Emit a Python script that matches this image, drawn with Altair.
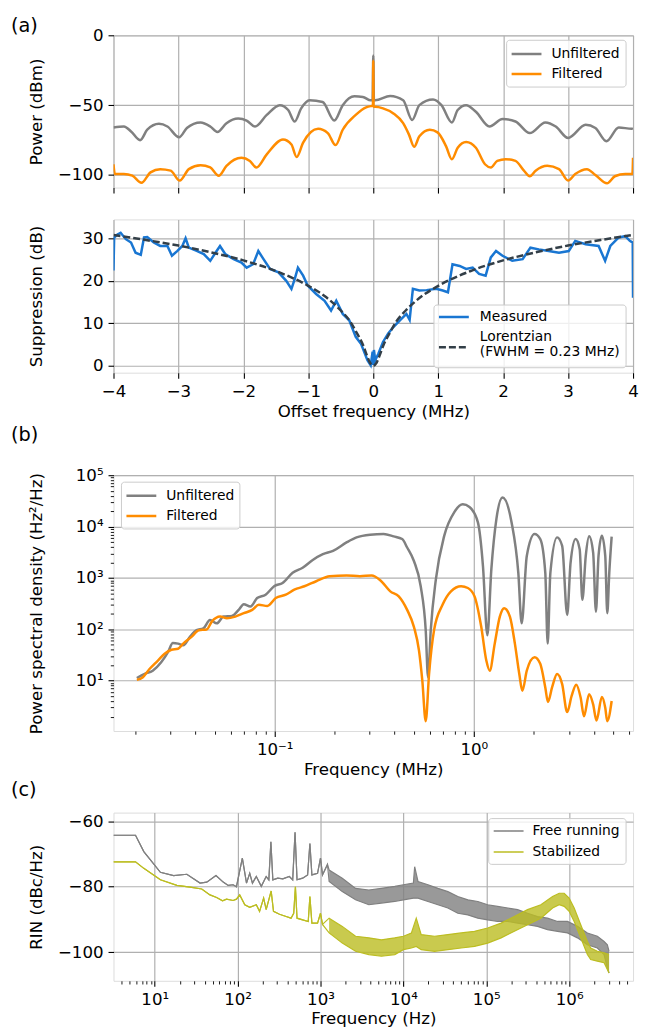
import altair as alt
import pandas as pd

FONT = "DejaVu Sans"
GRAY = "#808080"
ORANGE = "#ff8c00"
BLUE = "#1976d2"
DARK = "#333f48"
OLIVE = "#bcbd22"

# ---------------- (a) upper: power spectra ----------------
pa_unf_x = [-4.0, -3.84, -3.73, -3.59, -3.48, -3.30, -3.17, -2.99, -2.87, -2.66, -2.51, -2.40, -2.26, -2.08, -1.95,
            -1.82, -1.64, -1.44, -1.31, -1.21, -1.11, -0.98, -0.78, -0.60, -0.47, -0.29, -0.16, -0.04, -0.01, 0.0,
            0.01, 0.03, 0.26, 0.46, 0.60, 0.71, 0.92, 1.05, 1.21, 1.30, 1.43, 1.58, 1.79, 1.99, 2.19, 2.41, 2.65,
            2.81, 3.00, 3.27, 3.42, 3.59, 3.78, 3.98, 4.0]
pa_unf_y = [-66.0, -65.3, -68.8, -75.1, -67.6, -63.4, -65.3, -73.0, -66.4, -62.4, -65.3, -69.2, -62.9, -59.6, -61.0,
            -65.3, -57.0, -50.0, -53.5, -61.7, -52.3, -46.5, -47.7, -61.0, -50.0, -43.7, -44.1, -46.5, -46.5, -14.5,
            -46.5, -46.5, -43.4, -46.5, -60.6, -50.0, -46.0, -50.0, -62.4, -53.5, -50.0, -54.7, -65.3, -59.9, -61.7,
            -70.0, -62.4, -65.3, -73.5, -64.1, -66.4, -75.8, -66.0, -66.9, -66.5]
pa_fil_x = [-4.0, -3.98, -3.84, -3.71, -3.57, -3.43, -3.28, -3.12, -2.98, -2.84, -2.66, -2.51, -2.38, -2.26, -2.03,
            -1.90, -1.80, -1.64, -1.39, -1.26, -1.18, -1.08, -0.85, -0.70, -0.58, -0.47, -0.27, -0.11, -0.04, -0.005,
            0.0, 0.005, 0.03, 0.15, 0.31, 0.46, 0.55, 0.63, 0.71, 0.87, 0.99, 1.12, 1.21, 1.30, 1.43, 1.58, 1.72,
            1.81, 1.91, 2.04, 2.19, 2.32, 2.41, 2.50, 2.68, 2.86, 3.00, 3.11, 3.29, 3.42, 3.60, 3.72, 3.88, 3.99, 4.0]
pa_fil_y = [-92.3, -99.3, -99.3, -100.5, -105.6, -98.1, -95.8, -96.9, -104.0, -95.8, -93.0, -94.6, -100.5, -93.4,
            -87.6, -89.9, -94.6, -85.2, -74.6, -78.2, -87.1, -76.8, -66.9, -70.0, -78.6, -67.6, -57.0, -51.6, -50.7,
            -50.5, -18.3, -51.2, -51.2, -52.3, -55.9, -62.9, -71.1, -79.8, -72.3, -67.6, -69.5, -79.3, -88.7, -80.5,
            -76.3, -80.5, -92.3, -94.6, -89.9, -88.7, -89.9, -96.9, -100.9, -96.9, -93.4, -95.8, -104.0, -99.3,
            -95.8, -100.0, -105.9, -100.9, -99.3, -99.3, -87.6]
pa_names = ["Unfiltered", "Filtered"]

# ---------------- (a) lower: suppression ----------------
pb_meas_x = [-4.0, -3.99, -3.94, -3.89, -3.81, -3.73, -3.66, -3.58, -3.53, -3.48,
             -3.38, -3.28, -3.17, -3.10, -3.02, -2.94, -2.89, -2.84, -2.71, -2.61,
             -2.51, -2.43, -2.36, -2.28, -2.15, -2.03, -1.95, -1.85, -1.77, -1.69,
             -1.59, -1.46, -1.34, -1.26, -1.21, -1.16, -1.08, -1.01, -0.88, -0.75,
             -0.65, -0.57, -0.47, -0.37, -0.27, -0.19, -0.09, -0.04, -0.01, 0.0,
             0.01, 0.03, 0.08, 0.15, 0.23, 0.31, 0.41, 0.51, 0.56, 0.61,
             0.71, 0.82, 0.97, 1.07, 1.15, 1.22, 1.33, 1.43, 1.53, 1.63,
             1.73, 1.81, 1.89, 1.99, 2.14, 2.30, 2.42, 2.55, 2.70, 2.86,
             3.01, 3.11, 3.27, 3.47, 3.57, 3.65, 3.78, 3.88, 3.95, 3.995, 4.0]
pb_meas_y = [22.4, 30.2, 30.9, 31.3, 29.8, 29.0, 26.6, 26.1, 30.2, 30.3,
             29.0, 28.2, 28.2, 25.9, 27.0, 28.2, 30.0, 27.8, 27.0, 26.3,
             24.7, 26.6, 28.2, 26.3, 25.1, 24.3, 23.1, 23.9, 27.0, 25.1,
             22.8, 22.0, 20.0, 18.1, 20.4, 23.1, 21.2, 18.9, 16.9, 15.3,
             13.0, 15.3, 12.2, 10.7, 6.8, 5.2, 1.3, 0.1, 3.3, 0.2,
             3.7, 1.3, 2.9, 5.6, 7.6, 9.1, 10.7, 12.2, 10.8, 18.1,
             17.7, 17.8, 18.1, 17.7, 17.3, 23.9, 23.5, 22.8, 23.1, 21.6,
             21.2, 25.5, 27.0, 25.9, 24.7, 25.1, 27.8, 27.4, 27.0, 26.6,
             27.0, 29.4, 28.6, 28.2, 24.7, 28.2, 30.2, 30.5, 29.4, 29.0, 16.0]
pb_lor_x = [-4, -3.5, -3, -2.5, -2, -1.5, -1, -0.75, -0.5, -0.35, -0.25, -0.15, -0.1, -0.05, 0,
            0.05, 0.1, 0.15, 0.25, 0.35, 0.5, 0.75, 1, 1.5, 2, 2.5, 3, 3.5, 4]
pb_lor_y = [30.8, 29.6, 28.3, 26.7, 24.8, 22.3, 18.8, 16.4, 13.0, 10.3, 7.6, 4.6, 2.5, 0.7, 0.0,
            0.7, 2.5, 4.6, 7.6, 10.3, 13.0, 16.4, 18.8, 22.3, 24.8, 26.7, 28.3, 29.6, 30.8]
pb_names = [["Measured"], ["Lorentzian", "(FWHM = 0.23 MHz)"]]

# ---------------- (b) power spectral density ----------------
pc_unf_f = [0.0203, 0.0221, 0.0244, 0.0269, 0.0291, 0.0308, 0.0327, 0.0347, 0.0375, 0.0405,
            0.0438, 0.0473, 0.0512, 0.0553, 0.0610, 0.0659, 0.0699, 0.0755, 0.0816, 0.0900,
            0.0993, 0.1095, 0.1230, 0.1381, 0.1552, 0.1745, 0.1963, 0.2293, 0.2576, 0.3012,
            0.3521, 0.3957, 0.4365, 0.4624, 0.5000, 0.5408, 0.5731, 0.5888, 0.6074, 0.6442,
            0.7103, 0.7978, 0.8793, 0.9506, 1.047, 1.111, 1.169, 1.224, 1.298, 1.393,
            1.546, 1.672, 1.738, 1.844, 2.017, 2.155, 2.284, 2.348, 2.422, 2.618,
            2.776, 2.942, 3.060, 3.243, 3.399, 3.507, 3.647, 3.791, 3.972, 4.102,
            4.227, 4.394, 4.569, 4.677, 4.786, 4.920]
pc_unf_p = [11.3, 13.5, 15.7, 22.9, 36.1, 54.3, 52.7, 48.9, 71.3, 96.4,
            104, 152, 131, 177, 182, 239, 309, 278, 406, 472,
            689, 800, 1259, 1581, 2239, 2897, 3368, 4911, 6166, 6955,
            7173, 6457, 5718, 3920, 2138, 689, 96, 11.6, 96, 931,
            6653, 19140, 27120, 24040, 12170, 1706, 76.9, 1466, 14160, 36730,
            12170, 1259, 131, 2685, 7173, 5716, 1259, 52.7, 1259, 6166,
            4227, 191, 1982, 5716, 3631, 376, 2685, 6457, 3119, 221,
            2685, 6653, 2685, 206, 1259, 6353]
pc_fil_f = [0.0203, 0.0217, 0.0235, 0.0259, 0.0280, 0.0303, 0.0327, 0.0347, 0.0382, 0.0416,
            0.0455, 0.0483, 0.0532, 0.0575, 0.0634, 0.0699, 0.0771, 0.0832, 0.0918, 0.1012,
            0.1137, 0.1254, 0.1409, 0.1615, 0.1888, 0.2293, 0.2679, 0.3069, 0.3388, 0.3804,
            0.4196, 0.4624, 0.5000, 0.5301, 0.5510, 0.5731, 0.5957, 0.6312, 0.6961, 0.7674,
            0.8630, 0.9330, 1.008, 1.089, 1.155, 1.201, 1.273, 1.350, 1.420, 1.517,
            1.607, 1.691, 1.752, 1.844, 2.017, 2.155, 2.284, 2.356, 2.470, 2.618,
            2.776, 2.942, 3.097, 3.266, 3.437, 3.573, 3.791, 3.972, 4.128, 4.394,
            4.569, 4.677, 4.920]
pc_fil_p = [10.4, 11.6, 16.9, 24.7, 33.5, 40.1, 42.0, 52.7, 71.3, 96.4,
            99.4, 141, 177, 164, 177, 206, 239, 300, 286, 406,
            472, 592, 689, 863, 1084, 1117, 1084, 1117, 904, 548,
            438, 239, 112, 38.9, 10.0, 1.63, 13.5, 96.4, 300, 548,
            689, 638, 438, 112, 24.7, 15.7, 52.7, 177, 258, 177,
            52.7, 13.5, 6.36, 15.7, 28.7, 21.3, 7.38, 3.86, 7.38, 13.5,
            8.59, 2.45, 5.06, 8.34, 4.70, 2.04, 5.46, 3.47, 1.68, 4.83,
            2.98, 1.63, 4.03]
pc_names = ["Unfiltered", "Filtered"]

# ---------------- (c) RIN ----------------
pd_free_clean_f = [3.17, 5.86, 7.38, 11.7, 16.9, 24.4, 35.2, 42.4, 54.8, 67.0, 76.9, 88.3, 96.8, 114, 128, 140,
                   151, 168, 193, 221, 238, 252, 266, 305, 351, 421, 462, 493, 521, 609, 699, 745, 787, 921,
                   1000, 1057, 1213]
pd_free_clean_v = [-64.3, -64.3, -69.3, -75.6, -76.6, -76.2, -78.9, -78.6, -76.6, -78.6, -79.6, -79.4, -80.0,
                   -71.3, -78.9, -75.9, -78.9, -76.9, -79.9, -76.9, -77.9, -66.3, -77.9, -77.4, -77.6, -76.9,
                   -77.9, -63.4, -77.9, -77.4, -76.4, -66.8, -76.4, -75.9, -71.3, -76.4, -73.2]
pd_free_band_f = [1271, 1832, 2649, 3828, 5433, 7870, 10000, 13200, 13680, 15000, 19800, 26100, 34400, 45400,
                  60000, 79100, 104000, 137000, 182000, 239000, 315000, 416000, 548000, 724000, 955000,
                  1260000, 1660000, 2190000, 2640000, 2890000, 3030000]
pd_free_band_hi = [-74.9, -77.4, -80.5, -81.0, -80.5, -79.9, -79.4, -78.9, -73.9, -78.4, -79.4, -80.5, -81.5,
                   -83.0, -84.0, -84.5, -85.5, -86.0, -86.5, -87.0, -88.1, -89.1, -89.6, -90.6, -90.6, -92.1,
                   -94.1, -95.1, -96.7, -97.7, -99.7]
pd_free_band_lo = [-78.4, -81.5, -84.0, -85.5, -85.0, -84.5, -84.0, -83.5, -83.5, -83.5, -84.5, -85.5, -86.5,
                   -88.1, -88.6, -89.6, -90.1, -90.6, -90.6, -91.1, -91.6, -92.1, -93.1, -93.6, -94.1, -95.6,
                   -97.7, -98.7, -100.7, -104.8, -106.3]
pd_stab_clean_f = [3.17, 5.86, 7.38, 11.7, 18.5, 26.7, 36.9, 46.4, 55.8, 65.8, 73.5, 88.3, 96.8, 106, 122, 140,
                   168, 184, 206, 221, 254, 271, 320, 385, 441, 475, 498, 521, 609, 711, 745, 787, 921, 1000, 1057]
pd_stab_clean_v = [-72.4, -72.4, -74.4, -77.9, -79.6, -80.1, -80.7, -82.5, -83.3, -84.3, -83.8, -84.2, -83.8,
                   -82.5, -85.5, -86.3, -85.5, -87.5, -83.5, -87.0, -81.3, -87.5, -88.4, -89.1, -89.6, -88.1,
                   -80.0, -89.6, -90.1, -90.6, -83.0, -91.1, -91.1, -88.1, -91.5]
pd_stab_band_f = [1271, 1832, 2649, 3828, 5433, 7870, 10000, 12500, 14300, 16400, 23800, 34400, 49800, 72100,
                  104000, 151000, 218000, 315000, 456000, 631000, 759000, 871000, 1000000, 1150000, 1380000,
                  1660000, 1820000, 2190000, 2640000, 3030000]
pd_stab_band_hi = [-89.6, -92.1, -95.1, -95.6, -96.2, -95.6, -95.1, -94.1, -89.6, -94.6, -95.1, -94.6, -94.1,
                   -93.6, -92.6, -91.1, -89.1, -87.0, -85.5, -83.0, -82.0, -82.0, -83.5, -86.5, -91.6, -96.7,
                   -98.7, -99.7, -100.2, -100.7]
pd_stab_band_lo = [-94.1, -97.2, -99.7, -100.7, -101.2, -100.7, -99.2, -98.7, -98.2, -99.2, -99.7, -99.2, -98.7,
                   -98.2, -97.2, -95.6, -93.6, -91.6, -89.6, -86.5, -85.5, -86.0, -87.5, -90.6, -95.6, -100.7,
                   -102.2, -102.7, -103.2, -106.3]
pd_names = ["Free running", "Stabilized"]

# ---------------- layout ----------------
W = 522
H1, H2, H3, H4 = 153, 154, 257, 169
G1, G2, G3 = 32, 103, 82
FS = 16.7
LFS = 13.9
PFS = 19.4
LW = 2.5
TITLE_X = -77
ONE = pd.DataFrame({"k": [0]})

SUP = ("datum.value == 0.1 ? '10⁻¹' : datum.value == 1 ? '10⁰' : datum.value == 10 ? '10¹' : "
       "datum.value == 100 ? '10²' : datum.value == 1000 ? '10³' : datum.value == 10000 ? '10⁴' : "
       "datum.value == 100000 ? '10⁵' : datum.value == 1000000 ? '10⁶' : ''")
MAJOR = "indexof([0.1, 1, 10, 100, 1000, 10000, 100000, 1000000], datum.value) >= 0"


def line_df(xs, ys, name):
    return pd.DataFrame({"x": xs, "y": ys, "s": name, "i": list(range(len(xs)))})


def ax(**kw):
    base = dict(grid=True, gridColor="#b0b0b0", gridWidth=1.2, tickColor="black", tickSize=5.5, tickWidth=1.1,
                domain=False, labelFont=FONT, labelFontSize=FS, labelColor="black", titleFont=FONT,
                titleFontSize=FS, titleFontWeight="normal", titleColor="black", labelPadding=5,
                titlePadding=6, labelFlush=False, labelOverlap=False)
    base.update(kw)
    return alt.Axis(**base)


def yax(h, **kw):
    return ax(titleX=TITLE_X, titleY=h / 2, titleAngle=270, titleAlign="center", titleBaseline="middle", **kw)


def logax(majors, minors, **kw):
    return ax(values=majors + minors, labelExpr=SUP,
              tickSize={"condition": {"test": MAJOR, "value": 5.5}, "value": 3.2},
              tickWidth={"condition": {"test": MAJOR, "value": 1.1}, "value": 0.9},
              gridOpacity={"condition": {"test": MAJOR, "value": 1}, "value": 0}, **kw)


def legend_box(x0, y0, w, h, sx, lx, rows):
    """rows: list of (label lines, line y positions, symbol y, color, dash, width)"""
    layers = [alt.Chart(ONE).mark_rect(fill="white", fillOpacity=0.8, stroke="#cccccc", strokeWidth=1,
                                       cornerRadius=3).encode(
        x=alt.value(x0), x2=alt.value(x0 + w), y=alt.value(y0), y2=alt.value(y0 + h))]
    for lines, ly, sy, col, dash, sw in rows:
        layers.append(alt.Chart(ONE).mark_rule(color=col, strokeWidth=sw, strokeDash=dash).encode(
            x=alt.value(x0 + sx), x2=alt.value(x0 + sx + 30), y=alt.value(y0 + sy)))
        for txt, yy in zip(lines, ly):
            layers.append(alt.Chart(pd.DataFrame({"t": [txt]})).mark_text(
                align="left", baseline="middle", fontSize=LFS, font=FONT, color="black").encode(
                text="t:N", x=alt.value(x0 + lx), y=alt.value(y0 + yy)))
    return layers


def panel_label(txt, y):
    return alt.Chart(pd.DataFrame({"t": [txt]})).mark_text(
        align="left", baseline="alphabetic", fontSize=PFS, font=FONT, color="black"
    ).encode(text="t:N", x=alt.value(-103), y=alt.value(y))


def spacer(txt, h, y):
    return panel_label(txt, y).properties(width=W, height=h, view=alt.ViewBackground(stroke="transparent"))


# ---- panel 1
x1 = alt.X("x:Q", scale=alt.Scale(domain=[-4, 4], nice=False, zero=False),
           axis=ax(values=list(range(-4, 5)), labels=False, title=None))
y1 = alt.Y("y:Q", scale=alt.Scale(domain=[-109, 0], nice=False, zero=False),
           axis=yax(H1, values=[0, -50, -100], title="Power (dBm)"))
p1 = alt.layer(
    alt.Chart(line_df(pa_unf_x, pa_unf_y, pa_names[0])).mark_line(
        strokeWidth=LW, color=GRAY, interpolate="monotone", clip=True).encode(x=x1, y=y1, order="i:Q"),
    alt.Chart(line_df(pa_fil_x, pa_fil_y, pa_names[1])).mark_line(
        strokeWidth=LW, color=ORANGE, interpolate="monotone", clip=True).encode(x=x1, y=y1, order="i:Q"),
    *legend_box(395, 5, 120, 47, 5, 45, [([pa_names[0]], [13.7], 13.7, GRAY, [1, 0], LW),
                                          ([pa_names[1]], [34], 34, ORANGE, [1, 0], LW)]),
    panel_label("(a)", -3),
).properties(width=W, height=H1)

# ---- panel 2
x2 = alt.X("x:Q", scale=alt.Scale(domain=[-4, 4], nice=False, zero=False),
           axis=ax(values=list(range(-4, 5)), title="Offset frequency (MHz)", titlePadding=4))
y2 = alt.Y("y:Q", scale=alt.Scale(domain=[-1.64, 34.45], nice=False, zero=False),
           axis=yax(H2, values=[0, 10, 20, 30], title="Suppression (dB)"))
p2 = alt.layer(
    alt.Chart(line_df(pb_meas_x, pb_meas_y, pb_names[0][0])).mark_line(
        strokeWidth=LW, color=BLUE, clip=True).encode(x=x2, y=y2, order="i:Q"),
    alt.Chart(line_df(pb_lor_x, pb_lor_y, pb_names[1][0])).mark_line(
        strokeWidth=LW, color=DARK, strokeDash=[7, 3], interpolate="monotone", clip=True).encode(
        x=x2, y=y2, order="i:Q"),
    *legend_box(322, 86, 193, 63, 5, 46, [(pb_names[0], [12], 12, BLUE, [1, 0], LW),
                                           (pb_names[1], [32.5, 47], 42.5, DARK, [7, 3], LW)]),
).properties(width=W, height=H2)

# ---- panel 3
sx3 = alt.Scale(type="log", domain=[0.0155, 6.3], nice=False)
sy3 = alt.Scale(type="log", domain=[1.05, 1e5], nice=False)
minor3x = [round(m * d, 6) for d in [0.01, 0.1, 1] for m in range(2, 10) if 0.0155 <= m * d <= 6.3]
minor3y = [m * d for d in [1, 10, 100, 1000, 10000] for m in range(2, 10)]
x3 = alt.X("x:Q", scale=sx3, axis=logax([0.1, 1], minor3x, title="Frequency (MHz)", titlePadding=4))
y3 = alt.Y("y:Q", scale=sy3, axis=logax([10, 100, 1000, 10000, 100000], minor3y,
                                        title="Power spectral density (Hz²/Hz)", titleX=TITLE_X,
                                        titleY=H3 / 2, titleAngle=270, titleAlign="center",
                                        titleBaseline="middle"))
p3 = alt.layer(
    alt.Chart(line_df(pc_unf_f, pc_unf_p, pc_names[0])).mark_line(
        strokeWidth=LW, color=GRAY, interpolate="monotone", clip=True).encode(x=x3, y=y3, order="i:Q"),
    alt.Chart(line_df(pc_fil_f, pc_fil_p, pc_names[1])).mark_line(
        strokeWidth=LW, color=ORANGE, interpolate="monotone", clip=True).encode(x=x3, y=y3, order="i:Q"),
    *legend_box(8, 7, 119, 47, 5, 45, [([pc_names[0]], [13.7], 13.7, GRAY, [1, 0], LW),
                                        ([pc_names[1]], [34], 34, ORANGE, [1, 0], LW)]),
).properties(width=W, height=H3)

# ---- panel 4
sx4 = alt.Scale(type="log", domain=[3.18, 5.9e6], nice=False)
sy4 = alt.Scale(domain=[-108.7, -57.4], nice=False, zero=False)
minor4x = [m * d for d in [1, 10, 100, 1e3, 1e4, 1e5, 1e6] for m in range(2, 10) if 3.18 <= m * d <= 5.9e6]
x4 = alt.X("x:Q", scale=sx4, axis=logax([10, 100, 1000, 10000, 100000, 1000000], minor4x,
                                        title="Frequency (Hz)", titlePadding=3))
y4 = alt.Y("y:Q", scale=sy4, axis=yax(H4, values=[-60, -80, -100], title="RIN (dBc/Hz)"))


def band_layers(cf, cv, bf, bhi, blo, name, color):
    hi = line_df(cf + bf, cv + bhi, name)
    lo = line_df(cf + bf, cv + blo, name)
    area = pd.DataFrame({"x": bf, "y": blo, "y2": bhi})
    return [
        alt.Chart(area).mark_area(color=color, opacity=0.8, clip=True).encode(x=x4, y=y4, y2="y2:Q"),
        alt.Chart(lo).mark_line(strokeWidth=1.2, color=color, clip=True).encode(x=x4, y=y4, order="i:Q"),
        alt.Chart(hi).mark_line(strokeWidth=1.2, color=color, clip=True).encode(x=x4, y=y4, order="i:Q"),
    ]


p4 = alt.layer(
    *band_layers(pd_free_clean_f, pd_free_clean_v, pd_free_band_f, pd_free_band_hi, pd_free_band_lo,
                 pd_names[0], GRAY),
    *band_layers(pd_stab_clean_f, pd_stab_clean_v, pd_stab_band_f, pd_stab_band_hi, pd_stab_band_lo,
                 pd_names[1], OLIVE),
    *legend_box(377, 6, 138, 46, 5, 44, [([pd_names[0]], [12.5], 12.5, GRAY, [1, 0], 1.5),
                                          ([pd_names[1]], [33.5], 33.5, OLIVE, [1, 0], 1.5)]),
).properties(width=W, height=H4)

chart = alt.vconcat(
    p1, spacer("", G1, 10), p2, spacer("(b)", G2, 69), p3, spacer("(c)", G3, 65), p4,
    spacing=0, bounds="flush",
).resolve_scale(
    x="independent", y="independent"
).properties(
    padding={"left": 2, "top": 5, "right": 2, "bottom": 0}
).configure_view(stroke="black", strokeWidth=1.2).configure(font=FONT)

chart.save("out.html", embed_options={"renderer": "svg", "actions": False})
